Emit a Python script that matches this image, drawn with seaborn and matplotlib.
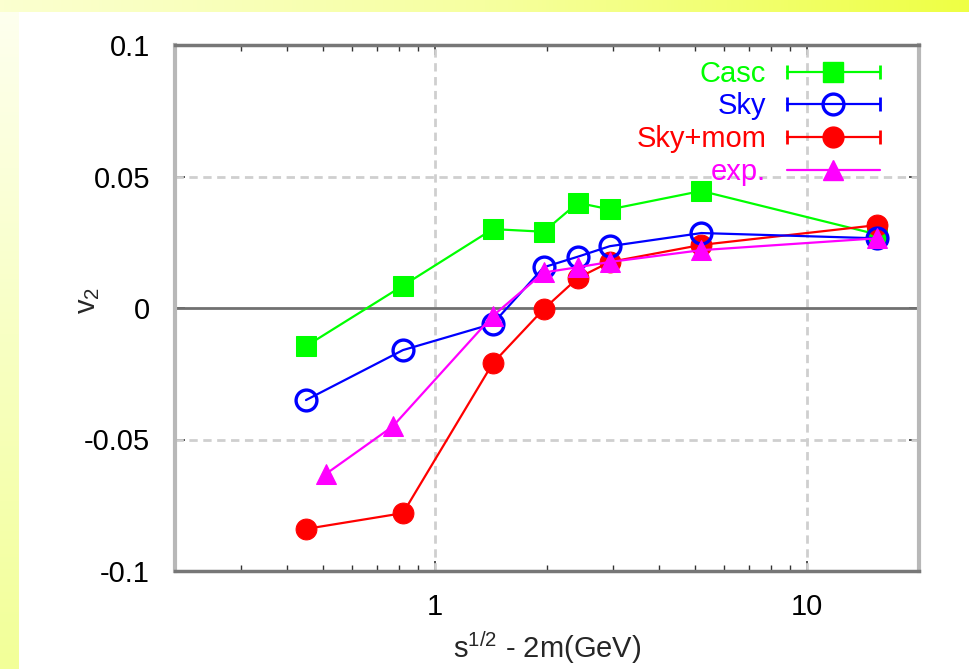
import numpy as np
import pandas as pd
import matplotlib
matplotlib.use("Agg")
import matplotlib.pyplot as plt
import seaborn as sns
from matplotlib.lines import Line2D
from matplotlib.legend_handler import HandlerLine2D, HandlerTuple
from matplotlib.ticker import LogLocator, NullFormatter, FixedLocator, FixedFormatter
from matplotlib.colors import LinearSegmentedColormap

# ---------------- data ----------------
x_model = [0.45, 0.82, 1.43, 1.96, 2.42, 2.95, 5.2, 15.4]
v2_casc = [-0.0145, 0.0085, 0.030, 0.029, 0.040, 0.0375, 0.0445, 0.028]
v2_sky = [-0.035, -0.016, -0.006, 0.0155, 0.0195, 0.0235, 0.0285, 0.0265]
v2_skymom = [-0.084, -0.078, -0.021, -0.0004, 0.0114, 0.0175, 0.024, 0.0315]
x_exp = [0.51, 0.77, 1.43, 1.96, 2.42, 2.95, 5.2, 15.4]
v2_exp = [-0.063, -0.045, -0.003, 0.0135, 0.0155, 0.0175, 0.022, 0.0265]

series_names = ["Casc", "Sky", "Sky+mom", "exp."]
y_ticks = [-0.1, -0.05, 0, 0.05, 0.1]
y_tick_labels = ["-0.1", "-0.05", "0", "0.05", "0.1"]
x_ticks = [1, 10]
x_tick_labels = ["1", "10"]

# ---------------- style ----------------
sns.set_style("ticks")
plt.rcParams["font.family"] = ["Liberation Sans", "DejaVu Sans"]
plt.rcParams["mathtext.fontset"] = "custom"
plt.rcParams["mathtext.rm"] = "Liberation Sans"
plt.rcParams["mathtext.it"] = "Liberation Sans"

FS = 21
GREEN, BLUE, RED, MAG = "#00ff00", "#0000ff", "#ff0000", "#ff00ff"

fig = plt.figure(figsize=(9.7, 6.69), dpi=100)
fig.patch.set_facecolor("white")

# decorative yellow gradient strips
grad_v = np.linspace(0, 1, 256).reshape(-1, 1)
axl = fig.add_axes([0, 0, 19 / 970, 1], zorder=0)
cm_v = LinearSegmentedColormap.from_list("v", ["#fefff0", "#f2ff98"])
axl.imshow(grad_v, aspect="auto", cmap=cm_v, extent=[0, 1, 1, 0])
axl.set_axis_off()
axt = fig.add_axes([0, 1 - 12 / 669, 1, 12 / 669], zorder=0)
cm_h = LinearSegmentedColormap.from_list("h", ["#fbffd0", "#f6ffa0", "#eeff44"])
axt.imshow(grad_v.T, aspect="auto", cmap=cm_h)
axt.set_axis_off()

ax = fig.add_axes([175 / 970, (669 - 571) / 669, 744 / 970, 526 / 669], zorder=2)
ax.set_facecolor("white")

lw = 1.6
sns.lineplot(x=x_model, y=v2_casc, ax=ax, color=GREEN, lw=lw, marker="s",
             markersize=15, markeredgecolor=GREEN, markerfacecolor=GREEN,
             sort=False, zorder=3)
sns.lineplot(x=x_model, y=v2_skymom, ax=ax, color=RED, lw=lw, marker="o",
             markersize=15, markeredgecolor=RED, markerfacecolor=RED,
             sort=False, zorder=4)
sns.lineplot(x=x_model, y=v2_sky, ax=ax, color=BLUE, lw=lw, marker="o",
             markersize=15, markeredgecolor=BLUE, markerfacecolor="none",
             markeredgewidth=2.4, sort=False, zorder=5)
sns.lineplot(x=x_exp, y=v2_exp, ax=ax, color=MAG, lw=lw, marker="^",
             markersize=14, markeredgecolor=MAG, markerfacecolor=MAG,
             sort=False, zorder=6)

ax.set_xscale("log")
ax.set_xlim(0.2, 20)
ax.set_ylim(-0.1, 0.1)

ax.xaxis.set_major_locator(FixedLocator(x_ticks))
ax.xaxis.set_major_formatter(FixedFormatter(x_tick_labels))
ax.xaxis.set_minor_locator(LogLocator(base=10, subs=np.arange(2, 10)))
ax.xaxis.set_minor_formatter(NullFormatter())
ax.yaxis.set_major_locator(FixedLocator(y_ticks))
ax.yaxis.set_major_formatter(FixedFormatter(y_tick_labels))

ax.tick_params(which="both", direction="in", top=True, right=True,
               colors="#333333", labelcolor="black", labelsize=FS)
ax.tick_params(which="major", length=7, width=1.2)
ax.tick_params(which="minor", length=4, width=1.0)
ax.tick_params(axis="y", pad=18)
ax.tick_params(axis="x", pad=16)

# grid
for xv in x_ticks:
    ax.axvline(xv, color="#cfcfcf", lw=2, ls=(0, (3, 2)), zorder=1)
for yv in [-0.05, 0.05]:
    ax.axhline(yv, color="#cfcfcf", lw=2, ls=(0, (3, 2)), zorder=1)
ax.axhline(0, color="#707070", lw=2, zorder=1.5)

for side in ["left", "right"]:
    ax.spines[side].set_color("#b8b8b8")
    ax.spines[side].set_linewidth(3)
for side in ["top", "bottom"]:
    ax.spines[side].set_color("#777777")
    ax.spines[side].set_linewidth(2.5)

ax.set_xlabel("")
ax.set_ylabel("")
fig.text(547 / 970, 1 - 648 / 669, r"$\mathrm{s}^{1/2}$ - 2m(GeV)", ha="center",
         va="center", fontsize=FS)
fig.text(88 / 970, 1 - 300 / 669, r"v$_2$", ha="center", va="center",
         rotation=90, fontsize=FS)

# legend (gnuplot style: label right-aligned, sample line with error-bar caps)
colors = [GREEN, BLUE, RED, MAG]
handles = []
hmap = {tuple: HandlerTuple(ndivide=1, pad=0)}
specs = [("s", 15, GREEN, 1.0, True), ("o", 15, "none", 2.4, True),
         ("o", 15, RED, 1.0, True), ("^", 14, MAG, 1.0, False)]
for c, (m, ms, mfc, mew, caps) in zip(colors, specs):
    main = Line2D([], [], color=c, lw=lw, marker=m, markersize=ms,
                  markerfacecolor=mfc, markeredgecolor=c, markeredgewidth=mew)
    if caps:
        cap = Line2D([], [], color=c, lw=0, marker="|", markersize=10,
                     markeredgewidth=2, linestyle="none")
        hmap[cap] = HandlerLine2D(numpoints=2, marker_pad=0)
        handles.append((main, cap))
    else:
        handles.append((main,))
leg = ax.legend(handles, series_names, handler_map=hmap, loc="upper right",
                bbox_to_anchor=(0.9476, 0.972), frameon=False, fontsize=FS,
                markerfirst=False, handlelength=3.2, handletextpad=0.7,
                labelspacing=0.16, borderpad=0, borderaxespad=0, numpoints=1)
for t, c in zip(leg.get_texts(), colors):
    t.set_color(c)
leg.set_zorder(10)

fig.savefig("out.png", dpi=100)
